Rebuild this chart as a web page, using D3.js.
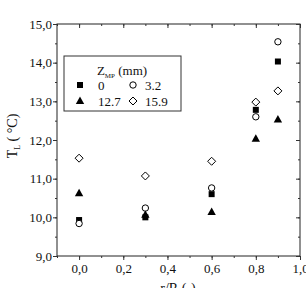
<!DOCTYPE html>
<html>
<head>
<meta charset="utf-8">
<script src="https://cdn.jsdelivr.net/npm/d3@7"></script>
<style>
body { margin: 0; background: #fff; }
text { font-family: "Liberation Serif", "Times New Roman", serif; fill: #111; }
</style>
</head>
<body>
<svg width="306" height="288"></svg>
<script>
var svg = d3.select("svg");
var margin = {top: 24, right: 6, bottom: 32, left: 57};
var width = 306 - margin.left - margin.right;
var height = 288 - margin.top - margin.bottom;

// r/R positions
var rR = [0.0, 0.3, 0.6, 0.8, 0.9];
// T_L for each Z_MP
var z0 = [9.93, 10.0, 10.6, 12.78, 14.03];
var z32 = [9.84, 10.24, 10.76, 12.6, 14.54];
var z127 = [10.62, 10.07, 10.14, 12.03, 12.53];
var z159 = [11.53, 11.07, 11.45, 12.98, 13.27];

var xTicks = [0.0, 0.2, 0.4, 0.6, 0.8, 1.0];
var yTicks = [9, 10, 11, 12, 13, 14, 15];

var series = [
  {name: "0", values: z0, shape: "square"},
  {name: "3.2", values: z32, shape: "circle"},
  {name: "12.7", values: z127, shape: "triangle"},
  {name: "15.9", values: z159, shape: "diamond"}
];

var x = d3.scaleLinear().domain([-0.1, 1.0]).range([0, width]);
var y = d3.scaleLinear().domain([9, 15]).range([height, 0]);
var fmt = function(d) { return d3.format(".1f")(d).replace(".", ","); };

var g = svg.append("g")
    .attr("transform", "translate(" + margin.left + "," + margin.top + ")");

// frame
g.append("rect")
    .attr("width", width).attr("height", height)
    .attr("fill", "none").attr("stroke", "#222").attr("stroke-width", 1);

var xMinor = d3.range(-0.1, 1.001, 0.1).map(function(d) { return Math.round(d * 10) / 10; });
var yMinor = d3.range(9, 15.001, 0.5);

function tickStyle(sel) {
  sel.select(".domain").remove();
  sel.selectAll("line").attr("stroke", "#333");
  sel.attr("font-family", null);
}

// bottom axis (labels + outward ticks)
g.append("g").attr("transform", "translate(0," + height + ")")
    .call(d3.axisBottom(x).tickValues(xTicks).tickFormat(fmt).tickSize(4).tickPadding(4))
    .call(tickStyle)
    .selectAll("text").style("font-size", "13px");
g.append("g").attr("transform", "translate(0," + height + ")")
    .call(d3.axisBottom(x).tickValues(xMinor).tickFormat("").tickSize(2))
    .call(tickStyle);
// top inward
g.append("g")
    .call(d3.axisBottom(x).tickValues(xTicks).tickFormat("").tickSize(4))
    .call(tickStyle);
g.append("g")
    .call(d3.axisBottom(x).tickValues(xMinor).tickFormat("").tickSize(2))
    .call(tickStyle);

// left axis
g.append("g")
    .call(d3.axisLeft(y).tickValues(yTicks).tickFormat(fmt).tickSize(4).tickPadding(1))
    .call(tickStyle)
    .selectAll("text").style("font-size", "13px");
g.append("g")
    .call(d3.axisLeft(y).tickValues(yMinor).tickFormat("").tickSize(2))
    .call(tickStyle);
// right inward
g.append("g").attr("transform", "translate(" + width + ",0)")
    .call(d3.axisLeft(y).tickValues(yTicks).tickFormat("").tickSize(4))
    .call(tickStyle);
g.append("g").attr("transform", "translate(" + width + ",0)")
    .call(d3.axisLeft(y).tickValues(yMinor).tickFormat("").tickSize(2))
    .call(tickStyle);

// marker drawing
function marker(sel, shape) {
  if (shape === "square") {
    sel.append("rect").attr("x", -3).attr("y", -3).attr("width", 6).attr("height", 6)
      .attr("fill", "#000");
  } else if (shape === "circle") {
    sel.append("circle").attr("r", 3.2).attr("fill", "#fff")
      .attr("stroke", "#000").attr("stroke-width", 1);
  } else if (shape === "triangle") {
    sel.append("path").attr("d", "M0,-4.5L4.2,3L-4.2,3Z").attr("fill", "#000");
  } else {
    sel.append("path").attr("d", "M0,-4L4,0L0,4L-4,0Z").attr("fill", "#fff")
      .attr("stroke", "#000").attr("stroke-width", 1);
  }
}

series.forEach(function(s) {
  s.values.forEach(function(v, i) {
    var p = g.append("g").attr("transform", "translate(" + x(rR[i]) + "," + y(v) + ")");
    marker(p, s.shape);
  });
});

// legend
var leg = svg.append("g").attr("transform", "translate(64,56)");
leg.append("rect").attr("width", 117).attr("height", 55)
    .attr("fill", "#fff").attr("stroke", "#333").attr("stroke-width", 1);
var title = leg.append("text").attr("x", 58).attr("y", 19).attr("text-anchor", "middle")
    .style("font-size", "13px");
title.append("tspan").text("Z");
title.append("tspan").text("MP").attr("dy", 3).style("font-size", "7px");
title.append("tspan").text(" (mm)").attr("dy", -3);

var legPos = [[16, 29], [69, 29], [16, 45], [69, 45]];
series.forEach(function(s, i) {
  var p = leg.append("g").attr("transform", "translate(" + legPos[i][0] + "," + legPos[i][1] + ")");
  marker(p, s.shape);
  leg.append("text").attr("x", legPos[i][0] + (i % 2 ? 12 : 18)).attr("y", legPos[i][1] + 5)
      .style("font-size", "13px").text(s.name);
});

// axis titles
var yl = svg.append("text")
    .attr("transform", "translate(17,136) rotate(-90)")
    .attr("text-anchor", "middle").style("font-size", "14px");
yl.append("tspan").text("T");
yl.append("tspan").text("L").attr("dy", 3).style("font-size", "8px");
yl.append("tspan").text(" ( °C)").attr("dy", -3);

svg.append("text").attr("x", 178).attr("y", 293).attr("text-anchor", "middle")
    .style("font-size", "14px").text("r/R (-)");
</script>
</body>
</html>
